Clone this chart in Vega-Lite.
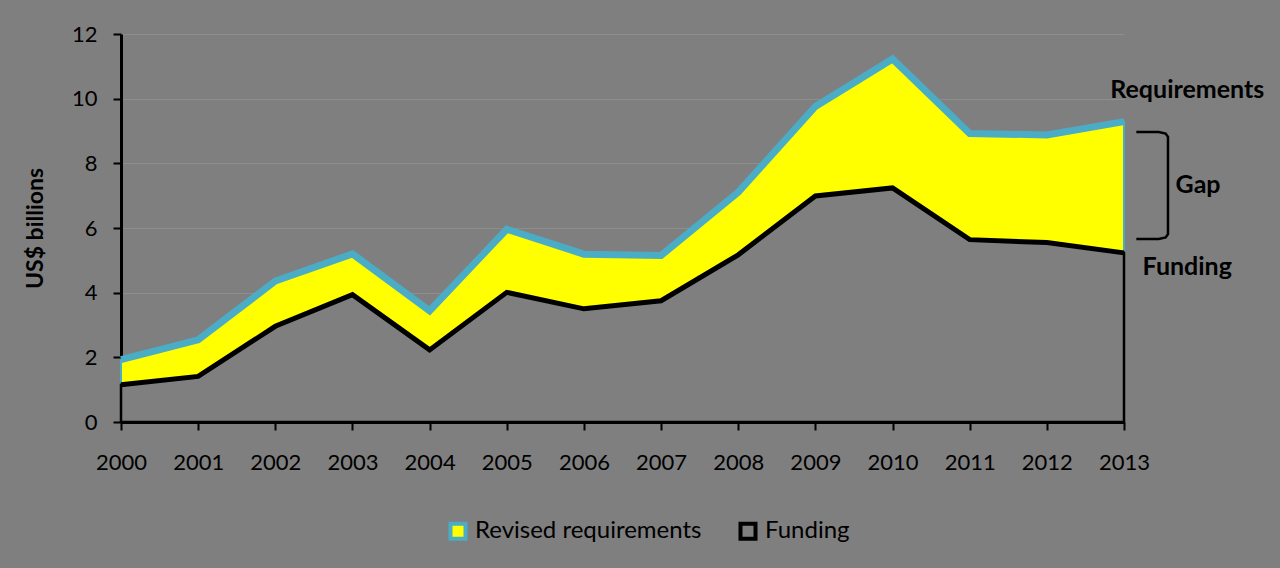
{
  "$schema": "https://vega.github.io/schema/vega-lite/v6.json",
  "width": 1003,
  "height": 388,
  "autosize": {"type": "none"},
  "padding": {"left": 121, "top": 34, "right": 156, "bottom": 146},
  "background": "#7f7f7f",
  "config": {
    "font": "Lato",
    "view": {"stroke": null},
    "axis": {"labelFont": "Lato", "labelFontSize": 22, "labelColor": "#000000", "domainColor": "#000000", "domainWidth": 3, "tickColor": "#000000", "tickWidth": 2, "tickSize": 8, "zindex": 1},
    "legend": {"labelFont": "Lato", "labelFontSize": 24, "labelColor": "#000000", "labelLimit": 400}
  },
  "datasets": {
    "main": [
      {"year": 2000, "series": "Revised requirements", "value": 1.93},
      {"year": 2001, "series": "Revised requirements", "value": 2.54},
      {"year": 2002, "series": "Revised requirements", "value": 4.36},
      {"year": 2003, "series": "Revised requirements", "value": 5.2},
      {"year": 2004, "series": "Revised requirements", "value": 3.44},
      {"year": 2005, "series": "Revised requirements", "value": 5.96},
      {"year": 2006, "series": "Revised requirements", "value": 5.19},
      {"year": 2007, "series": "Revised requirements", "value": 5.15},
      {"year": 2008, "series": "Revised requirements", "value": 7.11},
      {"year": 2009, "series": "Revised requirements", "value": 9.76},
      {"year": 2010, "series": "Revised requirements", "value": 11.23},
      {"year": 2011, "series": "Revised requirements", "value": 8.92},
      {"year": 2012, "series": "Revised requirements", "value": 8.88},
      {"year": 2013, "series": "Revised requirements", "value": 9.29},
      {"year": 2000, "series": "Funding", "value": 1.15},
      {"year": 2001, "series": "Funding", "value": 1.41},
      {"year": 2002, "series": "Funding", "value": 2.96},
      {"year": 2003, "series": "Funding", "value": 3.94},
      {"year": 2004, "series": "Funding", "value": 2.23},
      {"year": 2005, "series": "Funding", "value": 4.01},
      {"year": 2006, "series": "Funding", "value": 3.5},
      {"year": 2007, "series": "Funding", "value": 3.75},
      {"year": 2008, "series": "Funding", "value": 5.17},
      {"year": 2009, "series": "Funding", "value": 6.99},
      {"year": 2010, "series": "Funding", "value": 7.24},
      {"year": 2011, "series": "Funding", "value": 5.64},
      {"year": 2012, "series": "Funding", "value": 5.55},
      {"year": 2013, "series": "Funding", "value": 5.23}
    ],
    "labels": [
      {"year": 2013.82, "value": 10.27, "text": "Requirements"},
      {"year": 2013.96, "value": 7.33, "text": "Gap"},
      {"year": 2013.82, "value": 4.79, "text": "Funding"}
    ],
    "bracket": [
      {"i": 1, "year": 2013.16, "value": 8.97},
      {"i": 2, "year": 2013.45, "value": 8.97},
      {"i": 3, "year": 2013.54, "value": 8.92},
      {"i": 4, "year": 2013.57, "value": 8.82},
      {"i": 5, "year": 2013.57, "value": 5.81},
      {"i": 6, "year": 2013.54, "value": 5.71},
      {"i": 7, "year": 2013.45, "value": 5.66},
      {"i": 8, "year": 2013.16, "value": 5.66}
    ]
  },
  "encoding": {
    "x": {"field": "year", "type": "quantitative", "scale": {"domain": [2000, 2013], "nice": false, "zero": false},
      "axis": {"title": null, "values": [2000,2001,2002,2003,2004,2005,2006,2007,2008,2009,2010,2011,2012,2013], "format": "d", "grid": false, "labelPadding": 22, "labelFlush": false}},
    "y": {"field": "value", "type": "quantitative", "scale": {"domain": [0, 12], "nice": false},
      "axis": {"title": "US$ billions", "values": [0,2,4,6,8,10,12], "grid": true, "gridColor": "#8e8e8e", "gridWidth": 1, "labelPadding": 16,
        "titleFont": "Lato", "titleFontSize": 23, "titleFontWeight": "bold", "titleColor": "#000000", "titleX": -86, "titleY": 194, "titleAngle": -90, "titleAlign": "center", "titleBaseline": "middle"}}
  },
  "layer": [
    {
      "data": {"name": "main"},
      "transform": [{"filter": "datum.series === 'Revised requirements'"}],
      "mark": {"type": "area", "strokeWidth": 2, "opacity": 1},
      "encoding": {
        "fill": {"field": "series", "type": "nominal", "scale": {"domain": ["Revised requirements", "Funding"], "range": ["#ffff00", "#7f7f7f"]},
          "legend": {"title": null, "orient": "none", "legendX": 325, "legendY": 485, "direction": "horizontal", "symbolType": "square", "symbolSize": 225, "symbolStrokeWidth": 4, "symbolOpacity": 1, "labelOffset": 5, "columnPadding": 30}},
        "stroke": {"field": "series", "type": "nominal", "scale": {"domain": ["Revised requirements", "Funding"], "range": ["#4bacc6", "#000000"]},
          "legend": {"title": null, "orient": "none", "legendX": 325, "legendY": 485, "direction": "horizontal", "symbolType": "square", "symbolSize": 225, "symbolStrokeWidth": 4, "symbolOpacity": 1, "labelOffset": 5, "columnPadding": 30}}
      }
    },
    {
      "data": {"name": "main"},
      "transform": [{"filter": "datum.series === 'Funding'"}],
      "mark": {"type": "area", "strokeWidth": 2.5, "opacity": 1},
      "encoding": {
        "fill": {"field": "series", "type": "nominal"},
        "stroke": {"field": "series", "type": "nominal"}
      }
    },
    {
      "data": {"name": "main"},
      "transform": [{"filter": "datum.series === 'Revised requirements'"}],
      "mark": {"type": "line", "color": "#4bacc6", "strokeWidth": 7, "strokeJoin": "miter"},
      "encoding": {}
    },
    {
      "data": {"name": "main"},
      "transform": [{"filter": "datum.series === 'Funding'"}],
      "mark": {"type": "line", "color": "#000000", "strokeWidth": 5, "strokeJoin": "miter"},
      "encoding": {}
    },
    {
      "data": {"name": "bracket"},
      "mark": {"type": "line", "color": "#000000", "strokeWidth": 2.5, "interpolate": "linear"},
      "encoding": {"order": {"field": "i", "type": "quantitative"}}
    },
    {
      "data": {"name": "labels"},
      "mark": {"type": "text", "font": "Lato", "fontSize": 25, "fontWeight": "bold", "color": "#000000", "align": "center", "baseline": "middle"},
      "encoding": {"text": {"field": "text"}}
    }
  ]
}
